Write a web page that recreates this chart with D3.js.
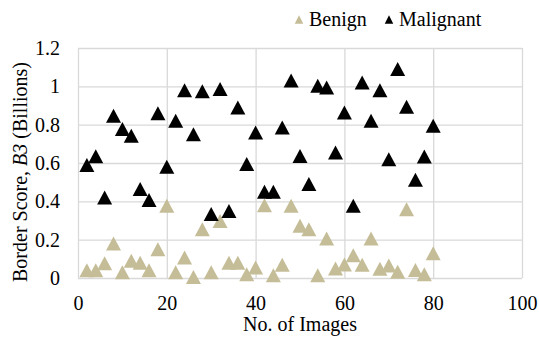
<!DOCTYPE html>
<html>
<head>
<meta charset="utf-8">
<script src="https://cdn.jsdelivr.net/npm/d3@7"></script>
<style>
  body { margin: 0; background: #fff; }
</style>
</head>
<body>
<div id="chart"></div>
<script>
// image number (x) shared by both series
var images = [2, 4, 6, 8, 10, 12, 14, 16, 18, 20, 22, 24, 26, 28, 30, 32, 34, 36, 38, 40,
              42, 44, 46, 48, 50, 52, 54, 56, 58, 60, 62, 64, 66, 68, 70, 72, 74, 76, 78, 80];

// border score B3 (billions)
var benign = [0.04, 0.04, 0.077, 0.18, 0.03, 0.09, 0.08, 0.04, 0.15, 0.377,
              0.03, 0.107, 0.005, 0.255, 0.03, 0.298, 0.08, 0.08, 0.02, 0.055,
              0.38, 0.015, 0.069, 0.377, 0.272, 0.255, 0.015, 0.206, 0.05, 0.07,
              0.119, 0.069, 0.206, 0.048, 0.065, 0.033, 0.359, 0.042, 0.02, 0.129];

var malignant = [0.59, 0.635, 0.42, 0.846, 0.777, 0.742, 0.465, 0.407, 0.859, 0.58,
                 0.82, 0.979, 0.75, 0.975, 0.334, 0.986, 0.35, 0.889, 0.595, 0.759,
                 0.45, 0.45, 0.785, 1.03, 0.637, 0.49, 1.003, 0.994, 0.655, 0.863,
                 0.377, 1.02, 0.82, 0.98, 0.62, 1.09, 0.893, 0.513, 0.634, 0.794];

var xTicks = [0, 20, 40, 60, 80, 100];
var yTicks = [0, 0.2, 0.4, 0.6, 0.8, 1, 1.2];

var seriesNames = ["Benign", "Malignant"];
var seriesColors = ["#c4bd97", "#000000"];

var FONT = "Liberation Serif";

var width = 539, height = 339;
var margin = {top: 48, right: 17, bottom: 61, left: 78};

var svg = d3.select("#chart").append("svg")
    .attr("width", width)
    .attr("height", height)
    .attr("font-family", FONT);

var x = d3.scaleLinear().domain([0, 100]).range([margin.left, width - margin.right]);
var y = d3.scaleLinear().domain([0, 1.2]).range([height - margin.bottom, margin.top]);

var fmt = d => String(+d.toFixed(1));

// gridlines + tick labels
var gx = svg.append("g")
    .attr("transform", `translate(0,${y(0)})`)
    .call(d3.axisBottom(x).tickValues(xTicks).tickFormat(fmt)
        .tickSize(-(y(0) - y(1.2))).tickPadding(17.5));

var gy = svg.append("g")
    .attr("transform", `translate(${x(0)},0)`)
    .call(d3.axisLeft(y).tickValues(yTicks).tickFormat(fmt)
        .tickSize(-(x(100) - x(0))).tickPadding(18));

[gx, gy].forEach(g => {
    g.attr("font-family", FONT).attr("font-size", 20);
    g.select(".domain").remove();
    g.selectAll(".tick line").attr("stroke", "#d9d9d9").attr("stroke-width", 1.3);
    g.selectAll(".tick text")
        .attr("font-family", FONT)
        .attr("font-size", 20)
        .attr("fill", "#000");
});

// triangle marker
var tri = (w, h) => `M0,${-h / 2}L${w / 2},${h / 2}L${-w / 2},${h / 2}Z`;

var series = [benign, malignant];
series.forEach((vals, i) => {
    svg.append("g")
        .selectAll("path")
        .data(vals)
        .join("path")
        .attr("d", tri(15, 14))
        .attr("transform", (d, j) => `translate(${x(images[j])},${y(d)})`)
        .attr("fill", seriesColors[i]);
});

// legend
var legendX = [299, 389];
seriesNames.forEach((name, i) => {
    svg.append("path")
        .attr("d", tri(8.5, 8.5))
        .attr("transform", `translate(${legendX[i]},19.5)`)
        .attr("fill", seriesColors[i]);
    svg.append("text")
        .attr("x", legendX[i] + 10)
        .attr("y", 25.7)
        .attr("font-family", FONT)
        .attr("font-size", 20)
        .text(name);
});

// axis titles
svg.append("text")
    .attr("x", (x(0) + x(100)) / 2)
    .attr("y", 330.5)
    .attr("text-anchor", "middle")
    .attr("font-family", FONT)
    .attr("font-size", 20)
    .text("No. of Images");

var yt = svg.append("text")
    .attr("transform", "translate(27,172) rotate(-90)")
    .attr("text-anchor", "middle")
    .attr("font-family", FONT)
    .attr("font-size", 20);
yt.append("tspan").text("Border Score, ");
yt.append("tspan").attr("font-style", "italic").text("B3");
yt.append("tspan").text(" (Billions)");
</script>
</body>
</html>
